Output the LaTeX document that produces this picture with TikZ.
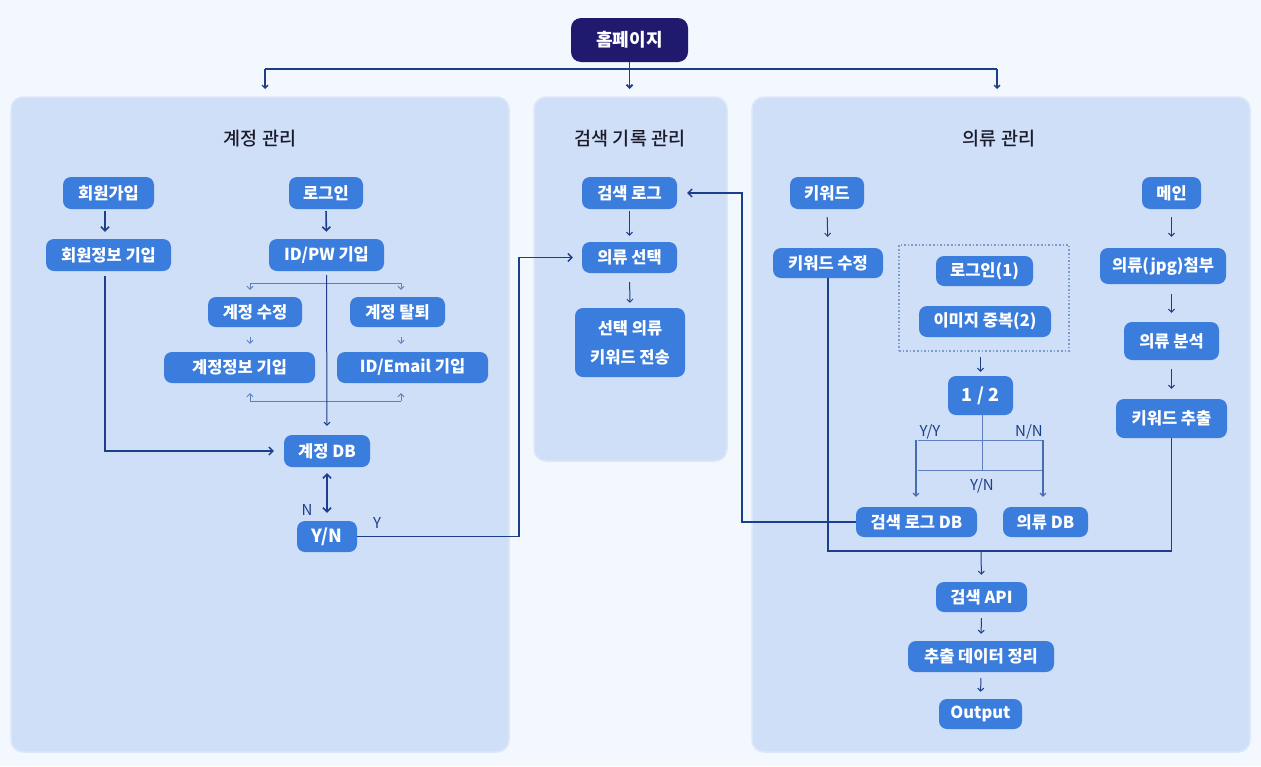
\documentclass[tikz,border=0pt]{standalone}
\usepackage{fontspec}
\setmainfont{Noto Sans CJK KR}
\newfontfamily\krmed{Noto Sans CJK KR Medium}
\usetikzlibrary{arrows.meta}

\definecolor{bgc}{HTML}{F3F7FE}
\definecolor{panelc}{HTML}{CFDFF7}
\definecolor{paneledge}{HTML}{DCE7F9}
\definecolor{boxc}{HTML}{3B7DDD}
\definecolor{homec}{HTML}{201A6F}
\definecolor{linec}{HTML}{1C3F8B}
\definecolor{thinc}{HTML}{5B7FC0}
\definecolor{titlec}{HTML}{1B1B2B}

\tikzset{
  panel/.style={fill=panelc, draw=paneledge, line width=1.5pt, rounded corners=12pt},
  box/.style={fill=boxc, rounded corners=8pt, text=white, inner sep=0pt,
    font=\bfseries\fontsize{16.5}{20}\selectfont, align=center},
  bigbox/.style={box, font=\bfseries\fontsize{18}{20}\selectfont},
  homebox/.style={fill=homec, rounded corners=10pt, text=white, inner sep=0pt,
    font=\bfseries\fontsize{18}{20}\selectfont},
  title/.style={text=titlec, font=\krmed\fontsize{18.5}{22}\selectfont},
  lbl/.style={text=linec, font=\fontsize{15}{17}\selectfont},
  conn/.style={draw=linec, line width=1.3pt},
  thin/.style={draw=thinc, line width=0.8pt},
  arr/.style={-{Straight Barb[length=4pt,width=8pt]}},
  sarr/.style={-{Straight Barb[length=3pt,width=6pt]}},
  dotbox/.style={draw=thinc!80, dotted, line width=1.6pt, inner sep=0pt},
}

\begin{document}
\begin{tikzpicture}[x=1pt,y=-1pt]
\fill[bgc] (0,0) rectangle (1261,766);
\useasboundingbox (0,0) rectangle (1261,766);

% panels
\path[panel] (11,97) rectangle (509,752);
\path[panel] (534,97) rectangle (727,461);
\path[panel] (752,97) rectangle (1250,752);

\node[title] (tAcc) at (260,139) {계정 관리};
\node[title] (tHist) at (630,139) {검색 기록 관리};
\node[title] (tCloth) at (999,139) {의류 관리};

% top
\node[homebox, minimum width=117pt, minimum height=44pt] (home) at (629.5,40) {홈페이지};
\coordinate (hj) at (629.5,69);
\coordinate (tL) at (265,89);
\coordinate (tM) at (629.5,89);
\coordinate (tR) at (997,89);
\draw[conn] (tL|-hj) -- (tR|-hj);
\draw[conn,sarr] (tL|-hj) -- (tL);
\draw[conn,sarr] (tR|-hj) -- (tR);
\draw[conn,line width=1.8pt,sarr] (home.south) -- (tM);

% account panel
\node[box, minimum width=91pt, minimum height=32pt] (join) at (108.5,193) {회원가입};
\node[box, minimum width=74pt, minimum height=32pt] (login) at (326,193) {로그인};
\node[box, minimum width=125pt, minimum height=32pt] (joininfo) at (108.5,255) {회원정보 기입};
\node[box, minimum width=115pt, minimum height=32pt] (idpw) at (326.5,255) {ID/PW 기입};
\node[box, minimum width=94pt, minimum height=30pt] (edit) at (255,312) {계정 수정};
\node[box, minimum width=95pt, minimum height=30pt] (quit) at (397.5,312) {계정 탈퇴};
\node[box, minimum width=151pt, minimum height=31pt] (editinfo) at (239.5,367.5) {계정정보 기입};
\node[box, minimum width=151pt, minimum height=31pt] (idemail) at (412.5,367.5) {ID/Email 기입};
\node[box, minimum width=86pt, minimum height=32pt] (acctdb) at (327,451) {계정 DB};
\node[bigbox, minimum width=60pt, minimum height=31pt] (yn) at (327,536.5) {Y/N};

\draw[conn,arr,line width=1.6pt,shorten <=2pt,shorten >=7pt] (join.south -| 105,0) -- (joininfo.north -| 105,0);
\draw[conn,arr,line width=1.6pt,shorten <=2pt,shorten >=7pt] (login.south) -- (idpw.north);

\coordinate (bl) at (250,283);
\coordinate (br) at (401,283);
\coordinate (ul) at (250,401);
\coordinate (ur) at (401,401);
\draw[thin] (bl) -- (br);
\draw[thin,sarr,shorten >=7pt] (bl) -- (bl|-edit.north);
\draw[thin,sarr,shorten >=7pt] (br) -- (br|-quit.north);
\draw[thin,sarr,shorten <=10pt,shorten >=8pt] (edit.south -| bl) -- (editinfo.north -| bl);
\draw[thin,sarr,shorten <=10pt,shorten >=8pt] (quit.south -| br) -- (idemail.north -| br);
\draw[thin] (ul) -- (ur);
\draw[thin,sarr,shorten >=10pt] (ul) -- (editinfo.south -| ul);
\draw[thin,sarr,shorten >=10pt] (ur) -- (idemail.south -| ur);
\draw[conn,line width=1pt,sarr,shorten <=4pt,shorten >=9pt] (idpw.south) -- (acctdb.north);

\draw[conn,arr,shorten <=5pt,shorten >=10pt] (joininfo.south -| 105,0) |- (acctdb.west);
\draw[conn,line width=1.6pt,{Straight Barb[length=4pt,width=8pt]}-{Straight Barb[length=4pt,width=8pt]},shorten <=6pt,shorten >=8pt] (acctdb.south) -- (yn.north);
\node[lbl] (lN) at (307,510) {N};
\node[lbl] (lY) at (377,523) {Y};

\coordinate (ycol) at (519,257.5);
\coordinate (ycolb) at (519,536.5);

% history panel
\node[box, minimum width=95pt, minimum height=32pt] (log) at (629.5,193) {검색 로그};
\node[box, minimum width=95pt, minimum height=31pt] (select) at (629.5,257.5) {의류 선택};
\node[box, minimum width=110pt, minimum height=69pt, font=\bfseries\fontsize{16.5}{29}\selectfont] (send) at (630,342.5) {선택 의류\\키워드 전송};

\draw[conn,line width=1pt,sarr,shorten <=2pt,shorten >=6pt] (log.south) -- (select.north);
\draw[conn,line width=1pt,sarr,shorten <=9pt,shorten >=5pt] (select.south) -- (send.north);
\draw[conn,arr,shorten >=9pt] (yn.east) -- (ycolb) -- (ycol) -- (select.west);

% clothing panel
\node[box, minimum width=74pt, minimum height=32pt] (kw) at (827,193) {키워드};
\node[box, minimum width=110pt, minimum height=30pt] (kwedit) at (828,263) {키워드 수정};
\node[dotbox, minimum width=170pt, minimum height=106pt] (grp) at (984,298) {};
\node[box, minimum width=97pt, minimum height=30pt] (login1) at (984.5,271) {로그인(1)};
\node[box, minimum width=132pt, minimum height=31pt] (dup2) at (985,321.5) {이미지 중복(2)};
\node[bigbox, minimum width=65pt, minimum height=39pt] (half) at (980.5,395.5) {1 / 2};
\node[box, minimum width=59pt, minimum height=32pt] (mainn) at (1171.5,193) {메인};
\node[box, minimum width=126pt, minimum height=36pt] (attach) at (1163,266) {의류(jpg)첨부};
\node[box, minimum width=95pt, minimum height=38pt] (analyze) at (1171.5,341) {의류 분석};
\node[box, minimum width=111pt, minimum height=39pt] (extract) at (1171.5,418.5) {키워드 추출};
\node[box, minimum width=121pt, minimum height=30pt] (logdb) at (916.5,522) {검색 로그 DB};
\node[box, minimum width=85pt, minimum height=30pt] (clothdb) at (1045.5,522) {의류 DB};
\node[box, minimum width=91pt, minimum height=30pt] (api) at (981.5,597) {검색 API};
\node[box, minimum width=146pt, minimum height=31pt] (tidy) at (981,656.5) {추출 데이터 정리};
\node[box, minimum width=83pt, minimum height=30pt] (output) at (980.5,714) {Output};

\draw[conn,line width=1pt,sarr,shorten <=8pt,shorten >=11pt] (kw.south) -- (kwedit.north);
\draw[conn,line width=1pt,sarr,shorten <=5pt,shorten >=4pt] (grp.south -| half) -- (half.north);
\draw[conn,line width=1pt,sarr,shorten <=8pt,shorten >=11pt] (mainn.south) -- (attach.north -| mainn);
\draw[conn,line width=1pt,sarr,shorten <=10pt,shorten >=9pt] (attach.south -| mainn) -- (analyze.north);
\draw[conn,line width=1pt,sarr,shorten <=9pt,shorten >=10pt] (analyze.south) -- (extract.north);

% 1/2 split
\coordinate (sc) at (982,470);
\coordinate (syy) at (916,440);
\coordinate (snn) at (1043,440);
\draw[thin] (half.south -| sc) -- (sc);
\draw[thin] (918,440) -- (1042,440);
\draw[thin] (918,470) -- (1042,470);
\draw[conn,draw=thinc!70!linec,line width=1.1pt,sarr,shorten >=10pt] (syy) -- (logdb.north -| syy);
\draw[conn,draw=thinc!70!linec,line width=1.1pt,sarr,shorten >=10pt] (snn) -- (clothdb.north -| snn);
\node[lbl] (lYY) at (930,432) {Y/Y};
\node[lbl] (lNN) at (1029,432) {N/N};
\node[lbl] (lYN) at (982,486) {Y/N};

% collector to search API
\coordinate (bus) at (981,551);
\draw[conn] (kwedit.south) |- (bus) -| (extract.south);
\draw[conn,line width=1pt,sarr,shorten >=7pt] (bus) -- (api.north);
\draw[conn,line width=1pt,sarr,shorten <=6pt,shorten >=7pt] (api.south) -- (tidy.north);
\draw[conn,line width=1pt,sarr,shorten <=6pt,shorten >=7pt] (tidy.south) -- (output.north);

% feedback from search log DB
\coordinate (fbcol) at (742,522);
\draw[conn,arr,shorten >=10pt] (logdb.west) -- (fbcol) |- (log.east);
\end{tikzpicture}
\end{document}
